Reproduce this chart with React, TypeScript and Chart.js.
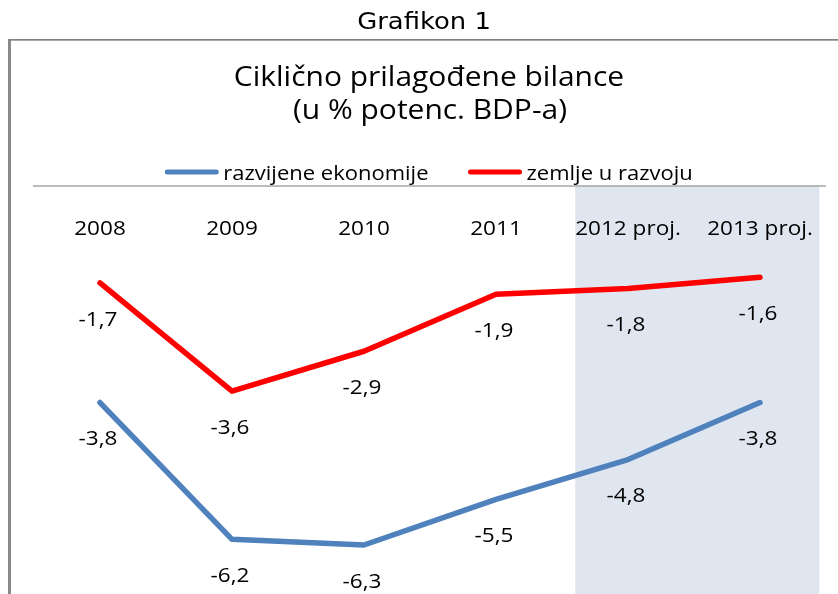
import React, { useEffect, useRef } from "react";
import { Chart, registerables } from "chart.js";

Chart.register(...registerables);

// ---- data ----
const categories = ["2008", "2009", "2010", "2011", "2012 proj.", "2013 proj."];
const developed = [-3.8, -6.2, -6.3, -5.5, -4.8, -3.8];
const developing = [-1.7, -3.6, -2.9, -1.9, -1.8, -1.6];
const seriesNames = ["razvijene ekonomije", "zemlje u razvoju"];
const headerText = "Grafikon 1";
const titleLines = ["Ciklično prilagođene bilance", "(u % potenc. BDP-a)"];
const yMin = -7.16;
const yMax = 0;

const BLUE = "#4f81bd";
const RED = "#ff0000";
const SANS = "'Open Sans', 'Noto Sans', sans-serif";
const SX = 1.1;

function fmt(v: number) {
  return v.toFixed(1).replace(".", ",");
}

function drawText(
  ctx: CanvasRenderingContext2D,
  s: string,
  x: number,
  y: number,
  font: string,
  sx: number,
  align: "center" | "left" | "right" = "center",
  baseline: CanvasTextBaseline = "alphabetic",
  color = "#000"
) {
  ctx.save();
  ctx.font = font;
  ctx.fillStyle = color;
  ctx.textBaseline = baseline;
  ctx.textAlign = "left";
  const w = ctx.measureText(s).width * sx;
  const left = align === "center" ? x - w / 2 : align === "left" ? x : x - w;
  ctx.translate(left, y);
  ctx.scale(sx, 1);
  ctx.fillText(s, 0, 0);
  ctx.restore();
  return w;
}

function measure(ctx: CanvasRenderingContext2D, s: string, font: string, sx: number) {
  ctx.save();
  ctx.font = font;
  const w = ctx.measureText(s).width * sx;
  ctx.restore();
  return w;
}

const decorPlugin = {
  id: "decor",
  beforeDraw(chart: any) {
    const ctx: CanvasRenderingContext2D = chart.ctx;
    const { width, height } = chart;
    ctx.save();
    ctx.fillStyle = "#ffffff";
    ctx.fillRect(0, 0, width, height);
    ctx.restore();
  },
  beforeDatasetsDraw(chart: any) {
    const ctx: CanvasRenderingContext2D = chart.ctx;
    const xs = chart.scales.x;
    const ys = chart.scales.y;
    const area = chart.chartArea;
    const step = xs.getPixelForValue(1) - xs.getPixelForValue(0);
    // projection band
    const bx0 = xs.getPixelForValue(3) + step * 0.6;
    const bx1 = xs.getPixelForValue(5) + step * 0.45;
    const y0 = ys.getPixelForValue(0);
    ctx.save();
    ctx.fillStyle = "#dfe6f0";
    ctx.fillRect(bx0, y0, bx1 - bx0, area.bottom - y0);
    // axis line at zero
    ctx.strokeStyle = "#a6a6a6";
    ctx.lineWidth = 1.5;
    ctx.beginPath();
    ctx.moveTo(area.left - 1, y0);
    ctx.lineTo(area.right, y0);
    ctx.stroke();
    ctx.restore();
    // category labels
    categories.forEach((c, i) => {
      drawText(ctx, c, xs.getPixelForValue(i), y0 + 49, `20.5px ${SANS}`, SX, "center", "alphabetic", "#000");
    });
  },
  afterDatasetsDraw(chart: any) {
    const ctx: CanvasRenderingContext2D = chart.ctx;
    chart.data.datasets.forEach((ds: any, di: number) => {
      const meta = chart.getDatasetMeta(di);
      meta.data.forEach((pt: any, i: number) => {
        drawText(ctx, fmt(ds.data[i]), pt.x - 2, pt.y + 37, `20.5px ${SANS}`, SX, "center", "middle", "#000");
      });
    });
  },
  afterDraw(chart: any) {
    const ctx: CanvasRenderingContext2D = chart.ctx;
    const { width, height } = chart;
    // frame
    ctx.save();
    ctx.fillStyle = "#808080";
    ctx.fillRect(8, 39, width - 8, 1);
    ctx.fillStyle = "#a8a8a8";
    ctx.fillRect(8, 40, width - 8, 1);
    ctx.fillStyle = "#888888";
    ctx.fillRect(8, 39, 3, height - 39);
    ctx.restore();
    // header
    drawText(ctx, headerText, 424, 29, `23.5px 'DejaVu Sans', Verdana, sans-serif`, 1.1, "center", "alphabetic", "#000");
    // title
    drawText(ctx, titleLines[0], 429, 86, `28px ${SANS}`, 1.07, "center", "alphabetic", "#000");
    drawText(ctx, titleLines[1], 430, 119, `28px ${SANS}`, 1.07, "center", "alphabetic", "#000");
    // legend
    const lf = `20px ${SANS}`;
    const lineLen = 53;
    const gap = 5;
    const itemGap = 40;
    const colors = [BLUE, RED];
    const widths = seriesNames.map((n) => measure(ctx, n, lf, SX));
    const total = widths.reduce((a, w) => a + lineLen + gap + w, 0) + itemGap * (seriesNames.length - 1);
    let x = 429 - total / 2;
    const ly = 172;
    seriesNames.forEach((n, i) => {
      ctx.save();
      ctx.strokeStyle = colors[i];
      ctx.lineWidth = 5;
      ctx.lineCap = "round";
      ctx.beginPath();
      ctx.moveTo(x + 2, ly);
      ctx.lineTo(x + lineLen - 2, ly);
      ctx.stroke();
      ctx.restore();
      drawText(ctx, n, x + lineLen + gap, ly + 8, lf, SX, "left", "alphabetic", "#000");
      x += lineLen + gap + widths[i] + itemGap;
    });
  },
};

export default function App() {
  const ref = useRef<HTMLCanvasElement | null>(null);
  useEffect(() => {
    if (!ref.current) return;
    const chart = new Chart(ref.current, {
      type: "line",
      data: {
        labels: categories,
        datasets: [
          {
            label: seriesNames[0],
            data: developed,
            borderColor: BLUE,
            backgroundColor: BLUE,
            borderWidth: 5.5,
            pointRadius: 0,
            tension: 0,
            borderCapStyle: "round",
            borderJoinStyle: "round",
          },
          {
            label: seriesNames[1],
            data: developing,
            borderColor: RED,
            backgroundColor: RED,
            borderWidth: 5.5,
            pointRadius: 0,
            tension: 0,
            borderCapStyle: "round",
            borderJoinStyle: "round",
          },
        ],
      },
      options: {
        responsive: false,
        animation: false,
        devicePixelRatio: 1,
        layout: { padding: { left: 34, right: 12, top: 186, bottom: 0 } },
        plugins: { legend: { display: false }, title: { display: false }, tooltip: { enabled: false } },
        scales: {
          x: { type: "category", offset: true, display: false },
          y: { type: "linear", min: yMin, max: yMax, display: false },
        },
      },
      plugins: [decorPlugin],
    });
    return () => chart.destroy();
  }, []);
  return (
    <div style={{ position: "absolute", left: 0, top: 0, width: 838, height: 594 }}>
      <canvas ref={ref} width={838} height={594} style={{ display: "block" }} />
    </div>
  );
}
